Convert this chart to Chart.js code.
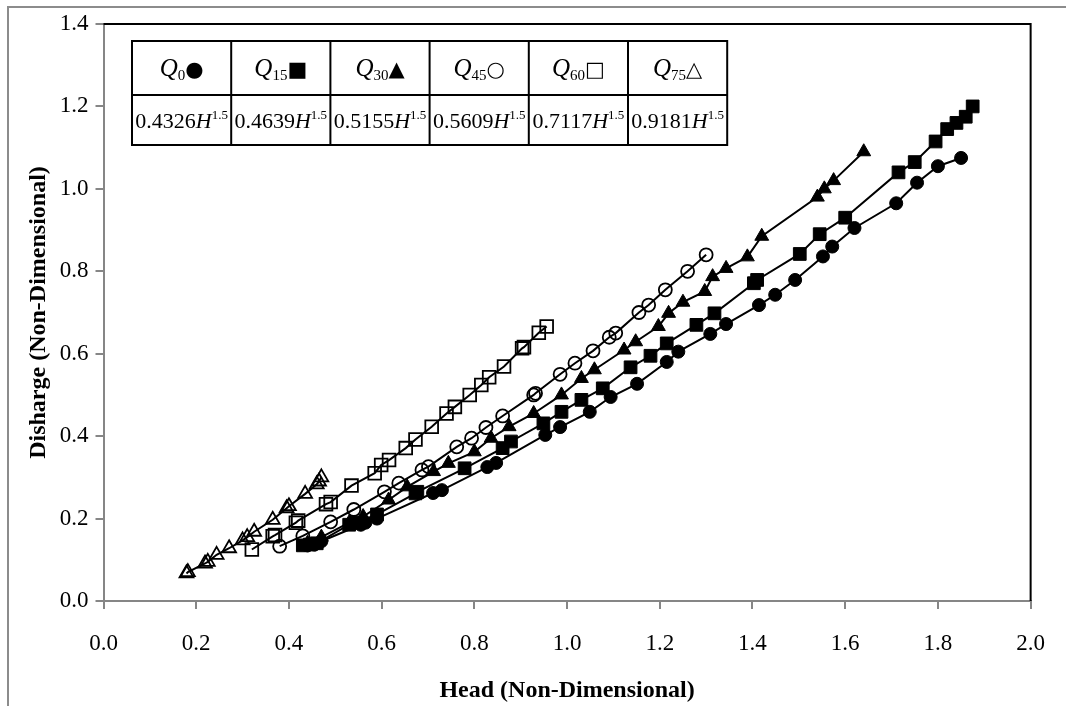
<!DOCTYPE html>
<html>
<head>
<meta charset="utf-8">
<script src="https://cdn.jsdelivr.net/npm/chart.js@4.4.0/dist/chart.umd.min.js"></script>
<style>
  html, body { margin: 0; padding: 0; background: #fff; }
</style>
</head>
<body>
<canvas id="c" width="1066" height="706"></canvas>
<script>
// head (x) and discharge (y), one pair of arrays per series
const q0H = [0.44, 0.455, 0.47, 0.555, 0.565, 0.59, 0.711, 0.73, 0.828, 0.847, 0.953, 0.985, 1.049, 1.094, 1.151, 1.215, 1.24, 1.309, 1.343, 1.414, 1.449, 1.492, 1.552, 1.572, 1.62, 1.71, 1.755, 1.80, 1.85];
const q0Q = [0.135, 0.137, 0.145, 0.185, 0.19, 0.2, 0.262, 0.269, 0.325, 0.335, 0.403, 0.422, 0.459, 0.495, 0.527, 0.58, 0.605, 0.648, 0.672, 0.718, 0.743, 0.779, 0.836, 0.86, 0.905, 0.965, 1.015, 1.055, 1.075];

const q15H = [0.43, 0.445, 0.46, 0.53, 0.545, 0.59, 0.673, 0.677, 0.779, 0.861, 0.879, 0.949, 0.988, 1.031, 1.077, 1.137, 1.18, 1.215, 1.279, 1.318, 1.403, 1.41, 1.502, 1.545, 1.60, 1.715, 1.75, 1.795, 1.82, 1.84, 1.86, 1.875];
const q15Q = [0.135, 0.137, 0.14, 0.185, 0.19, 0.21, 0.261, 0.265, 0.322, 0.371, 0.387, 0.431, 0.459, 0.488, 0.516, 0.567, 0.595, 0.625, 0.67, 0.698, 0.771, 0.779, 0.842, 0.89, 0.93, 1.04, 1.065, 1.115, 1.145, 1.16, 1.175, 1.2];

const q30H = [0.44, 0.47, 0.53, 0.56, 0.615, 0.655, 0.712, 0.744, 0.80, 0.836, 0.875, 0.928, 0.988, 1.031, 1.059, 1.123, 1.148, 1.197, 1.219, 1.25, 1.297, 1.314, 1.343, 1.389, 1.42, 1.54, 1.555, 1.575, 1.64];
const q30Q = [0.14, 0.155, 0.19, 0.205, 0.245, 0.277, 0.314, 0.334, 0.362, 0.395, 0.423, 0.455, 0.50, 0.54, 0.561, 0.609, 0.629, 0.666, 0.698, 0.725, 0.751, 0.787, 0.807, 0.835, 0.885, 0.98, 1.0, 1.02, 1.09];

const q45H = [0.38, 0.43, 0.49, 0.54, 0.606, 0.637, 0.687, 0.701, 0.762, 0.794, 0.825, 0.861, 0.928, 0.932, 0.985, 1.017, 1.056, 1.091, 1.105, 1.155, 1.176, 1.212, 1.26, 1.30];
const q45Q = [0.133, 0.158, 0.192, 0.222, 0.265, 0.286, 0.318, 0.326, 0.374, 0.395, 0.421, 0.449, 0.50, 0.504, 0.55, 0.577, 0.607, 0.64, 0.65, 0.70, 0.718, 0.755, 0.80, 0.84];

const q60H = [0.32, 0.365, 0.37, 0.415, 0.42, 0.48, 0.49, 0.535, 0.585, 0.599, 0.616, 0.652, 0.673, 0.708, 0.74, 0.758, 0.79, 0.815, 0.832, 0.864, 0.903, 0.907, 0.939, 0.956];
const q60Q = [0.125, 0.157, 0.16, 0.19, 0.195, 0.235, 0.24, 0.28, 0.31, 0.33, 0.342, 0.371, 0.392, 0.423, 0.455, 0.471, 0.50, 0.524, 0.543, 0.569, 0.613, 0.616, 0.651, 0.666];

const q75H = [0.179, 0.182, 0.219, 0.225, 0.244, 0.271, 0.30, 0.31, 0.325, 0.365, 0.395, 0.40, 0.435, 0.46, 0.465, 0.47];
const q75Q = [0.067, 0.07, 0.091, 0.095, 0.112, 0.128, 0.147, 0.155, 0.168, 0.197, 0.225, 0.23, 0.26, 0.283, 0.29, 0.30];

// table inside the plot
const tableSubs = ['0', '15', '30', '45', '60', '75'];
const tableSymbols = ['\u25CF', '\u25A0', '\u25B2', '\u25CB', '\u25A1', '\u25B3'];
const tableCoefs = ['0.4326', '0.4639', '0.5155', '0.5609', '0.7117', '0.9181'];

const serif = '"Liberation Serif", "Times New Roman", serif';

function pts(h, q) {
  return h.map((v, i) => ({ x: v, y: q[i] }));
}

function series(label, h, q, style, radius, filled) {
  return {
    label: label,
    data: pts(h, q),
    showLine: true,
    borderColor: '#000',
    borderWidth: 2,
    tension: 0,
    pointStyle: style,
    pointRadius: radius,
    pointBorderColor: '#000',
    pointBorderWidth: filled ? 1 : 1.8,
    pointBackgroundColor: filled ? '#000' : 'rgba(0,0,0,0)'
  };
}

function drawRuns(ctx, runs, cx, baseY) {
  let w = 0;
  runs.forEach(r => { ctx.font = r.font; r.w = ctx.measureText(r.t).width; w += r.w; });
  let x = cx - w / 2;
  runs.forEach(r => {
    ctx.font = r.font;
    ctx.fillText(r.t, x, baseY + (r.dy || 0));
    x += r.w;
  });
}

const framePlugin = {
  id: 'frame',
  beforeDraw(chart) {
    const ctx = chart.ctx;
    ctx.save();
    ctx.fillStyle = '#fff';
    ctx.fillRect(0, 0, chart.width, chart.height);
    ctx.strokeStyle = '#8c8c8c';
    ctx.lineWidth = 2;
    ctx.strokeRect(8, 7, chart.width + 10, chart.height + 10);
    ctx.restore();
  },
  beforeDatasetsDraw(chart) {
    const { ctx, chartArea: a } = chart;
    ctx.save();
    ctx.strokeStyle = '#000';
    ctx.lineWidth = 2;
    ctx.beginPath();
    ctx.moveTo(a.left, a.top);
    ctx.lineTo(a.right, a.top);
    ctx.lineTo(a.right, a.bottom);
    ctx.stroke();
    ctx.restore();
  },
  afterDraw(chart) {
    const { ctx, chartArea: a } = chart;
    const x0 = a.left + 28.5, y0 = a.top + 17, cw = 99.2, h1 = 54, h2 = 50;
    ctx.save();
    ctx.fillStyle = '#fff';
    ctx.fillRect(x0, y0, cw * 6, h1 + h2);
    ctx.strokeStyle = '#000';
    ctx.lineWidth = 2;
    ctx.strokeRect(x0, y0, cw * 6, h1 + h2);
    ctx.beginPath();
    ctx.moveTo(x0, y0 + h1);
    ctx.lineTo(x0 + cw * 6, y0 + h1);
    for (let i = 1; i < 6; i++) {
      ctx.moveTo(x0 + cw * i, y0);
      ctx.lineTo(x0 + cw * i, y0 + h1 + h2);
    }
    ctx.stroke();
    ctx.fillStyle = '#000';
    ctx.textBaseline = 'alphabetic';
    tableSubs.forEach((s, i) => {
      const cx = x0 + cw * (i + 0.5);
      drawRuns(ctx, [
        { t: 'Q', font: 'italic 25px ' + serif },
        { t: s, font: '15px ' + serif, dy: 4 },
        { t: tableSymbols[i], font: '21px "DejaVu Sans"' }
      ], cx, y0 + h1 / 2 + 8);
      drawRuns(ctx, [
        { t: tableCoefs[i], font: '22px ' + serif },
        { t: 'H', font: 'italic 22px ' + serif },
        { t: '1.5', font: '13px ' + serif, dy: -9 }
      ], cx, y0 + h1 + h2 / 2 + 8);
    });
    ctx.restore();
  }
};

new Chart(document.getElementById('c'), {
  type: 'scatter',
  data: {
    datasets: [
      series('Q0', q0H, q0Q, 'circle', 6.5, true),
      series('Q15', q15H, q15Q, 'rect', 9, true),
      series('Q30', q30H, q30Q, 'triangle', 8, true),
      series('Q45', q45H, q45Q, 'circle', 6.5, false),
      series('Q60', q60H, q60Q, 'rect', 9, false),
      series('Q75', q75H, q75Q, 'triangle', 8, false)
    ]
  },
  options: {
    responsive: false,
    animation: false,
    layout: { padding: { left: 20, top: 24, right: 22, bottom: 0 } },
    plugins: { legend: { display: false }, tooltip: { enabled: false } },
    scales: {
      x: {
        type: 'linear', min: 0, max: 2,
        ticks: {
          stepSize: 0.2, autoSkip: false, maxRotation: 0, padding: 21, color: '#000',
          font: { family: serif, size: 23 },
          callback: v => v.toFixed(1)
        },
        grid: { drawOnChartArea: false, drawTicks: true, tickLength: 8, color: '#868686', lineWidth: 2 },
        border: { color: '#868686', width: 2 },
        title: {
          display: true, text: 'Head (Non-Dimensional)', color: '#000',
          font: { family: serif, size: 24, weight: 'bold' }, padding: { top: 0, bottom: 1 }
        },
        afterFit(s) { s.height = 105; }
      },
      y: {
        type: 'linear', min: 0, max: 1.4,
        ticks: {
          stepSize: 0.2, padding: 7, color: '#000',
          font: { family: serif, size: 23 },
          callback: v => v.toFixed(1)
        },
        grid: { drawOnChartArea: false, drawTicks: true, tickLength: 8, color: '#868686', lineWidth: 2 },
        border: { color: '#868686', width: 2 },
        title: {
          display: true, text: 'Disharge (Non-Dimensional)', color: '#000',
          font: { family: serif, size: 24, weight: 'bold' }, padding: { top: 4, bottom: 0 }
        },
        afterFit(s) { s.width = 83.5; }
      }
    }
  },
  plugins: [framePlugin]
});
</script>
</body>
</html>
